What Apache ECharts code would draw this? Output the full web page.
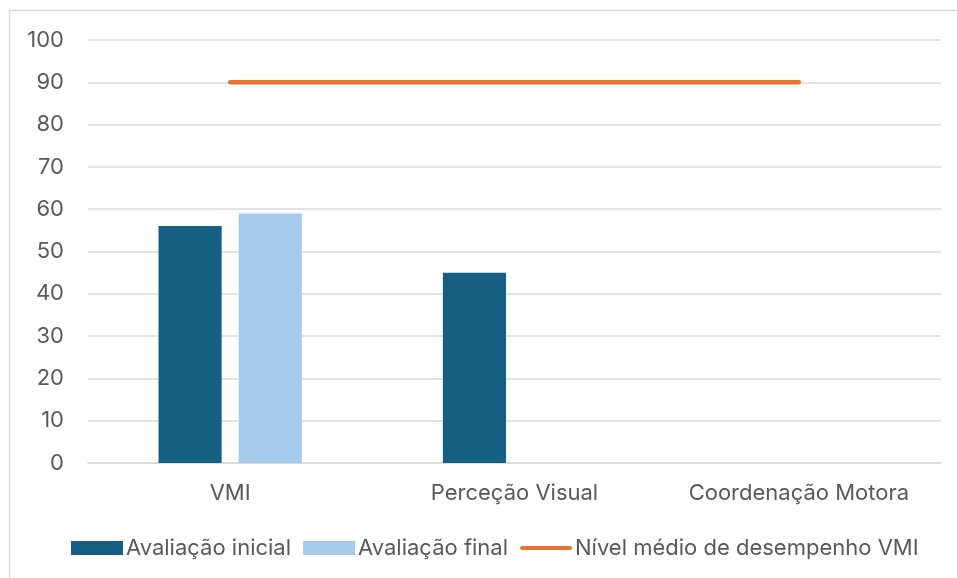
<!DOCTYPE html>
<html>
<head>
<meta charset="utf-8">
<script src="https://cdn.jsdelivr.net/npm/echarts@6/dist/echarts.min.js"></script>
<style>
  html, body { margin: 0; padding: 0; background: #ffffff; }
  #chart { width: 957px; height: 578px; }
</style>
</head>
<body>
<div id="chart"></div>
<script>
// Categories and values
const categories = ['VMI', 'Perceção Visual', 'Coordenação Motora'];
const avaliacaoInicial = [56, 45, null];
const avaliacaoFinal = [59, null, null];
const nivelMedio = [90, 90, 90];

const textColor = '#595959';
const gridColor = '#D9D9D9';
const fontFamily = 'Inter, "Open Sans", sans-serif';

const chart = echarts.init(document.getElementById('chart'), null, { renderer: 'canvas' });

chart.setOption({
  backgroundColor: '#ffffff',
  animation: false,
  textStyle: { fontFamily: fontFamily, color: textColor },
  graphic: [
    // frame: top and left edges
    { type: 'line', shape: { x1: 9, y1: 10.5, x2: 957, y2: 10.5 }, style: { stroke: gridColor, lineWidth: 1.5 } },
    { type: 'line', shape: { x1: 9.5, y1: 10, x2: 9.5, y2: 578 }, style: { stroke: gridColor, lineWidth: 1.5 } }
  ],
  grid: { left: 88, right: 16, top: 40, bottom: 115, containLabel: false },
  legend: {
    bottom: 14,
    left: 66,
    itemWidth: 52,
    itemHeight: 14,
    itemGap: 12,
    textStyle: { fontSize: 22, color: textColor, fontFamily: fontFamily, padding: [0, 0, 0, -2] },
    data: [
      { name: 'Avaliação inicial', icon: 'rect' },
      { name: 'Avaliação final', icon: 'rect' },
      { name: 'Nível médio de desempenho VMI', icon: 'path://M2,0 L50,0 A2,2 0 0 1 50,4 L2,4 A2,2 0 0 1 2,0 Z' }
    ]
  },
  xAxis: {
    type: 'category',
    data: categories,
    axisLine: { show: true, lineStyle: { color: gridColor, width: 1.5 } },
    axisTick: { show: false },
    axisLabel: { fontSize: 22, color: textColor, margin: 19, interval: 0 }
  },
  yAxis: {
    type: 'value',
    min: 0,
    max: 100,
    interval: 10,
    axisLine: { show: false },
    axisTick: { show: false },
    axisLabel: { fontSize: 22, color: textColor, margin: 24 },
    splitLine: { lineStyle: { color: gridColor, width: 1.5 } }
  },
  series: [
    {
      name: 'Avaliação inicial',
      type: 'bar',
      data: avaliacaoInicial,
      barWidth: '22.2%',
      barGap: '27%',
      itemStyle: { color: '#156082' }
    },
    {
      name: 'Avaliação final',
      type: 'bar',
      data: avaliacaoFinal,
      barWidth: '22.2%',
      barGap: '27%',
      itemStyle: { color: '#A6CAEC' }
    },
    {
      name: 'Nível médio de desempenho VMI',
      type: 'line',
      data: nivelMedio,
      symbol: 'none',
      itemStyle: { color: '#E97132' },
      lineStyle: { color: '#E97132', width: 4.5, cap: 'round' }
    }
  ]
});
</script>
</body>
</html>
